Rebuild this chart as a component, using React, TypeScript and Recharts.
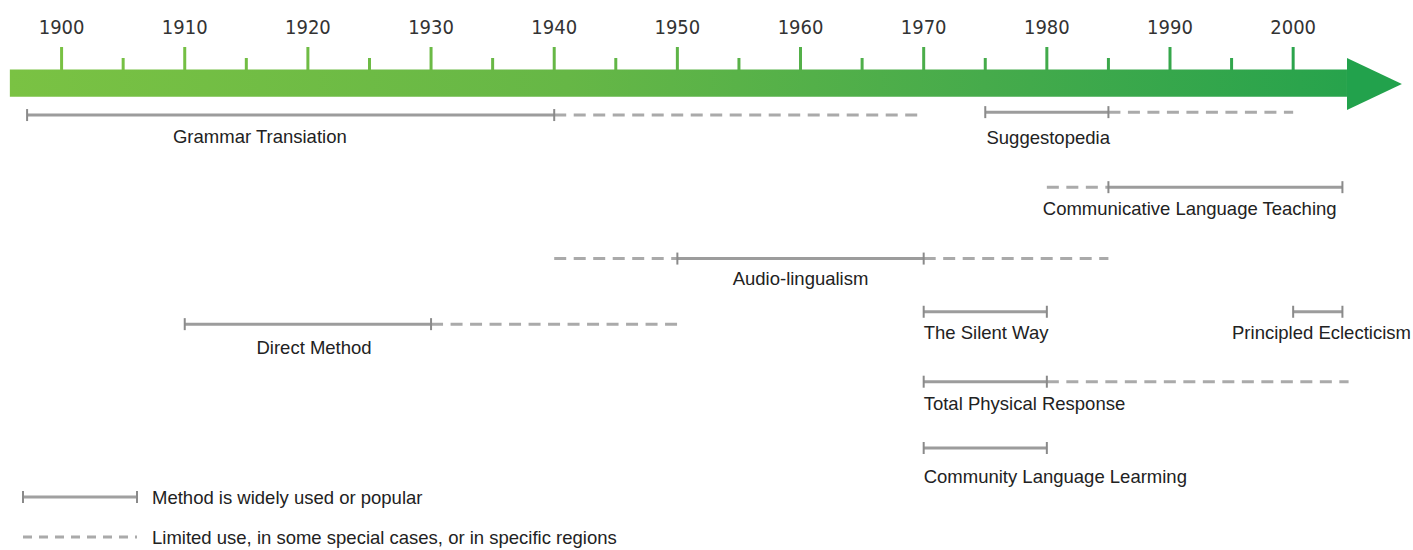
import { ComposedChart, Line, XAxis, YAxis, ReferenceArea, ReferenceLine, ReferenceDot, Legend } from 'recharts';

// years shown along the arrow
const decadeTicks = [1900, 1910, 1920, 1930, 1940, 1950, 1960, 1970, 1980, 1990, 2000];
const halfDecadeTicks = [1905, 1915, 1925, 1935, 1945, 1955, 1965, 1975, 1985, 1995];

// methods, their row on the chart and where the name sits
const methodNames = [
  'Grammar Transiation',
  'Suggestopedia',
  'Communicative Language Teaching',
  'Audio-lingualism',
  'Direct Method',
  'The Silent Way',
  'Principled Eclecticism',
  'Total Physical Response',
  'Community Language Learming',
];
const methodRows = [1.03, 0.99, 2.02, 3.0, 3.9, 3.73, 3.73, 4.69, 5.6];
const labelRows = [1.33, 1.345, 2.306, 3.28, 4.227, 4.02, 4.02, 4.996, 5.998];
const labelYears = [1916.1, 1975.1, 1991.6, 1960, 1920.5, 1970, 2002.3, 1970, 1970];
const labelAnchors = ['middle', 'start', 'middle', 'middle', 'middle', 'start', 'middle', 'start', 'start'];

// [method, from, to, widely used]
const periods: [number, number, number, boolean][] = [
  [0, 1897.2, 1940, true], [0, 1940, 1970, false],
  [1, 1975, 1985, true], [1, 1985, 2000, false],
  [2, 1980, 1985, false], [2, 1985, 2004, true],
  [3, 1940, 1950, false], [3, 1950, 1970, true], [3, 1970, 1985, false],
  [4, 1910, 1930, true], [4, 1930, 1950, false],
  [5, 1970, 1980, true],
  [6, 2000, 2004, true],
  [7, 1970, 1980, true], [7, 1980, 2004.5, false],
  [8, 1970, 1980, true],
];

const legendLabels = ['Method is widely used or popular', 'Limited use, in some special cases, or in specific regions'];

const arrowStart = 1895.8;
const arrowHeadStart = 2004.37;
const arrowTip = 2008.83;

const gradStops: [number, string][] = [
  [0, '#7ac243'],
  [0.4, '#66b746'],
  [0.7, '#46ab4b'],
  [1, '#22a24c'],
];

function hex(c: string) {
  return [1, 3, 5].map((i) => parseInt(c.slice(i, i + 2), 16));
}
function colorAt(year: number) {
  const t = (year - arrowStart) / (arrowTip - arrowStart);
  for (let i = 1; i < gradStops.length; i++) {
    const [t1, c1] = gradStops[i];
    const [t0, c0] = gradStops[i - 1];
    if (t <= t1) {
      const f = (t - t0) / (t1 - t0);
      const a = hex(c0), b = hex(c1);
      return `rgb(${a.map((v, k) => Math.round(v + (b[k] - v) * f)).join(',')})`;
    }
  }
  return gradStops[gradStops.length - 1][1];
}

const labelFont = '"Liberation Sans", Arial, sans-serif';
const labelSize = 18.5;

const YearTick = (props: any) => (
  <text x={props.x} y={props.y + 2} textAnchor="middle" fontFamily='"DejaVu Sans Condensed", Tahoma, sans-serif' fontSize={20} fill="#333">
    {props.payload.value}
  </text>
);

const Cap = (props: any) => {
  if (props.cx == null) return null;
  return <line key={props.index} x1={props.cx} x2={props.cx} y1={props.cy - 6} y2={props.cy + 6} stroke="#8a8a8a" strokeWidth={2} />;
};

const LegendKey = () => (
  <svg width={700} height={70}>
    <line x1={23} x2={137} y1={17} y2={17} stroke="#a0a0a0" strokeWidth={3} />
    <line x1={23} x2={23} y1={11} y2={23} stroke="#8a8a8a" strokeWidth={2} />
    <line x1={137} x2={137} y1={11} y2={23} stroke="#8a8a8a" strokeWidth={2} />
    <text x={152} y={17} dominantBaseline="central" fontFamily={labelFont} fontSize={labelSize} fill="#222">{legendLabels[0]}</text>
    <line x1={23} x2={137} y1={57} y2={57} stroke="#aaaaaa" strokeWidth={3} strokeDasharray="9 7" />
    <text x={152} y={57} dominantBaseline="central" fontFamily={labelFont} fontSize={labelSize} fill="#222">{legendLabels[1]}</text>
  </svg>
);

export default function App() {
  const ordered = [...periods.filter((p) => !p[3]), ...periods.filter((p) => p[3])];
  return (
    <div style={{ position: 'absolute', left: 0, top: 0 }}>
      <ComposedChart width={1413} height={550} margin={{ top: 0, right: 9, bottom: 0, left: 0 }}>
        <defs>
          <linearGradient id="arrowGrad" x1="0" y1="0" x2="1" y2="0">
            {gradStops.slice(0, 3).map(([o, c]) => (
              <stop key={o} offset={`${(o * (arrowTip - arrowStart)) / (arrowHeadStart - arrowStart) * 100}%`} stopColor={c} />
            ))}
            <stop offset="100%" stopColor={colorAt(arrowHeadStart)} />
          </linearGradient>
        </defs>
        <XAxis
          type="number"
          dataKey="year"
          domain={[1895, 2009]}
          orientation="top"
          height={40}
          ticks={decadeTicks}
          interval={0}
          axisLine={false}
          tickLine={false}
          tick={YearTick}
          allowDataOverflow
        />
        <YAxis type="number" domain={[0, 7]} reversed hide allowDataOverflow />
        <ReferenceArea x1={arrowStart} x2={arrowHeadStart} y1={0.405} y2={0.78} fill="url(#arrowGrad)" fillOpacity={1} stroke="none" ifOverflow="visible" />
        <ReferenceArea
          x1={arrowHeadStart}
          x2={arrowTip}
          y1={0.247}
          y2={0.961}
          ifOverflow="visible"
          shape={(p: any) => (
            <polygon points={`${p.x},${p.y} ${p.x + p.width},${p.y + p.height / 2} ${p.x},${p.y + p.height}`} fill={colorAt(arrowTip)} />
          )}
        />
        {decadeTicks.map((yr) => (
          <ReferenceLine key={yr} segment={[{ x: yr, y: 0.096 }, { x: yr, y: 0.415 }]} stroke={colorAt(yr)} strokeWidth={3} ifOverflow="visible" />
        ))}
        {halfDecadeTicks.map((yr) => (
          <ReferenceLine key={yr} segment={[{ x: yr, y: 0.247 }, { x: yr, y: 0.415 }]} stroke={colorAt(yr)} strokeWidth={3} ifOverflow="visible" />
        ))}
        {ordered.map(([m, from, to, solid]) => (
          <Line
            key={`${m}-${from}`}
            data={[{ year: from, row: methodRows[m] }, { year: to, row: methodRows[m] }]}
            dataKey="row"
            type="linear"
            stroke={solid ? '#9c9c9c' : '#aaaaaa'}
            strokeWidth={3}
            strokeDasharray={solid ? undefined : '12 7.5'}
            dot={solid ? Cap : false}
            activeDot={false}
            legendType="none"
            isAnimationActive={false}
          />
        ))}
        {methodNames.map((name, i) => (
          <ReferenceDot
            key={name}
            x={labelYears[i]}
            y={labelRows[i]}
            r={0}
            ifOverflow="visible"
            shape={(p: any) => (
              <text x={p.cx} y={p.cy} textAnchor={labelAnchors[i]} dominantBaseline="central" fontFamily={labelFont} fontSize={labelSize} fill="#222">
                {name}
              </text>
            )}
          />
        ))}
        <Legend verticalAlign="middle" align="center" wrapperStyle={{ left: 0, top: 480, width: 700, height: 70 }} content={() => <LegendKey />} />
      </ComposedChart>
    </div>
  );
}
